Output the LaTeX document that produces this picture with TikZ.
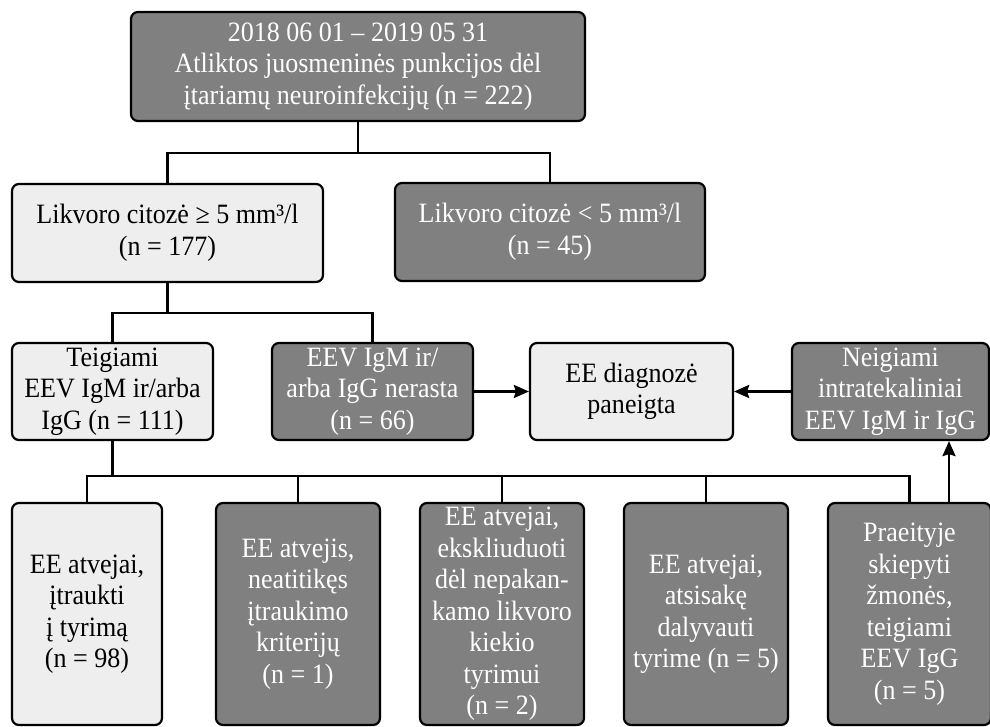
\documentclass[tikz,border=0pt]{standalone}
\usepackage{fontspec}
\setmainfont[FakeStretch=0.93]{Liberation Serif}
\usetikzlibrary{arrows.meta,calc}
\definecolor{dgray}{HTML}{808080}
\definecolor{lgray}{HTML}{EEEEEE}
\begin{document}
\begin{tikzpicture}[x=1pt,y=-1pt,
  box/.style={draw=black, line width=2.2pt, rounded corners=7pt, inner sep=0pt, align=center,
    font=\fontsize{28}{31.5}\selectfont},
  dark/.style={box, fill=dgray, text=white},
  light/.style={box, fill=lgray, text=black},
  conn/.style={draw=black, line width=2.4pt},
  arr/.style={conn, -{Stealth[length=15pt,width=13pt,inset=2pt]}}]
\useasboundingbox (0,0) rectangle (990,727);
% row 1
\node[dark, minimum width=454, minimum height=109] (top) at (358,66.5)
  {2018 06 01 – 2019 05 31\\Atliktos juosmeninės punkcijos dėl\\įtariamų neuroinfekcijų (n = 222)};
% row 2
\node[light, minimum width=311, minimum height=98] (r2l) at (167.5,233)
  {Likvoro citozė ≥ 5 mm³/l\\(n = 177)};
\node[dark, minimum width=310, minimum height=98] (r2r) at (550,232)
  {Likvoro citozė < 5 mm³/l\\(n = 45)};
% row 3
\node[light, minimum width=201, minimum height=97] (a) at (112.5,391.5)
  {Teigiami\\EEV IgM ir/arba\\IgG (n = 111)};
\node[dark, minimum width=201, minimum height=97] (b) at (372.5,391.5)
  {EEV IgM ir/\\arba IgG nerasta\\(n = 66)};
\node[light, minimum width=203, minimum height=97] (c) at (631.5,391.5)
  {EE diagnozė\\paneigta};
\node[dark, minimum width=197, minimum height=97] (d) at (890.5,391.5)
  {Neigiami\\intratekaliniai\\EEV IgM ir IgG};
% row 4
\node[light, minimum width=150, minimum height=222] (e1) at (87,614)
  {EE atvejai,\\įtraukti\\į tyrimą\\(n = 98)};
\node[dark, minimum width=164, minimum height=222] (e2) at (298,614)
  {EE atvejis,\\neatitikęs\\įtraukimo\\kriterijų\\(n = 1)};
\node[dark, minimum width=164, minimum height=222] (e3) at (502,614)
  {EE atvejai,\\ekskliuduoti\\dėl nepakan-\\kamo likvoro\\kiekio\\tyrimui\\(n = 2)};
\node[dark, minimum width=164, minimum height=222] (e4) at (706,614)
  {EE atvejai,\\atsisakę\\dalyvauti\\tyrime (n = 5)};
\node[dark, minimum width=163, minimum height=222] (e5) at (909.5,614)
  {Praeityje\\skiepyti\\žmonės,\\teigiami\\EEV IgG\\(n = 5)};
% junctions
\coordinate (h1) at (358,153);
\coordinate (h2) at (167.5,313);
\coordinate (h3) at (112.5,476);
\coordinate (up) at (949,0);
% connectors
\draw[conn] (top.south) -- (h1);
\draw[conn] (r2l.north) |- (h1) -| (r2r.north);
\draw[conn] (r2l.south) -- (h2);
\draw[conn] (a.north) |- (h2) -| (b.north);
\draw[conn] (a.south) -- (h3);
\draw[conn] (e1.north) |- (h3) -| (e5.north);
\foreach \n in {e2,e3,e4} \draw[conn] (\n.north) -- (\n.north |- h3);
\draw[arr] (b.east) -- (c.west);
\draw[arr] (d.west) -- (c.east);
\draw[arr] (e5.north -| up) -- (d.south -| up);
\end{tikzpicture}
\end{document}
